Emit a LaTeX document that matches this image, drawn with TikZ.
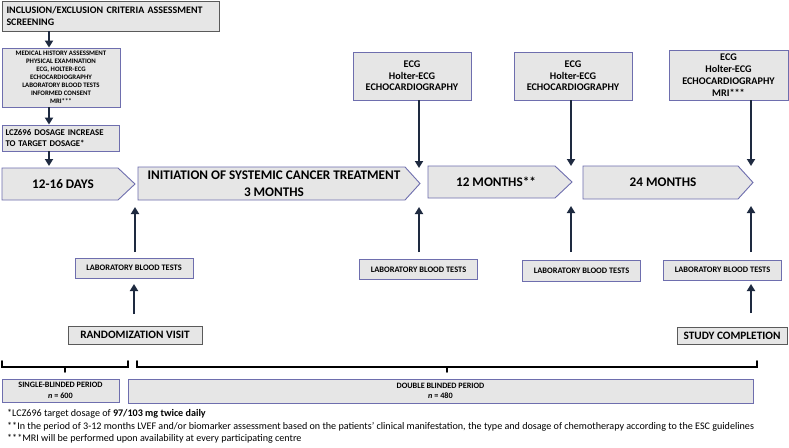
\documentclass[tikz,border=0pt]{standalone}
\usepackage{fontspec}
\setmainfont{Carlito}
\usetikzlibrary{arrows.meta}
\definecolor{boxgray}{HTML}{E6E6E6}
\definecolor{boxblue}{HTML}{6E6EAE}
\definecolor{boxdark}{HTML}{5A5A5A}
\definecolor{arrnavy}{HTML}{1E2A40}
\tikzset{
  x=1pt, y=-1pt,
  box/.style={draw=boxblue, fill=boxgray, line width=0.9pt, inner sep=0pt, align=center, font=\bfseries},
  darkbox/.style={box, draw=boxdark},
  arr/.style={draw=arrnavy, line width=2.6pt, -{Triangle[length=7pt,width=8pt]}},
  chev/.style={draw=boxblue, fill=boxgray, line width=0.9pt},
  brace/.style={draw=black, line width=1.6pt, line cap=round},
  lab/.style={box, minimum width=118pt, minimum height=20pt, font=\bfseries\fontsize{8.4}{9}\selectfont},
  ecg/.style={box, minimum width=118pt, font=\bfseries\fontsize{10.2}{11.5}\selectfont},
  chevtext/.style={align=center, font=\bfseries\fontsize{13.2}{16.5}\selectfont},
  foot/.style={anchor=west, inner sep=0pt, font=\fontsize{10.1}{11}\selectfont},
}
\begin{document}
\begin{tikzpicture}
\useasboundingbox (0,0) rectangle (789,447);
\fill[white] (0,0) rectangle (789,447);
% left column
\node[darkbox, minimum width=217pt, minimum height=30pt, align=left, text width=208pt,
  font=\bfseries\fontsize{10}{12}\selectfont] (b1) at (110.5,16)
  {INCLUSION/EXCLUSION CRITERIA ASSESSMENT\\SCREENING};
\node[box, minimum width=118pt, minimum height=59pt,
  font=\bfseries\fontsize{6.8}{8}\selectfont] (b2) at (61,77.5)
  {MEDICAL HISTORY ASSESSMENT\\PHYSICAL EXAMINATION\\ECG, HOLTER-ECG\\ECHOCARDIOGRAPHY\\LABORATORY BLOOD TESTS\\INFORMED CONSENT\\MRI***};
\node[box, minimum width=117pt, minimum height=26pt, align=left, text width=110pt,
  font=\bfseries\fontsize{8.8}{11.5}\selectfont] (b3) at (60.5,138)
  {LCZ696 DOSAGE INCREASE\\TO TARGET DOSAGE*};
% chevrons
\draw[chev] (2,168) -- (118,168) -- (135,184) -- (118,200) -- (2,200) -- cycle;
\node[chevtext] (c1) at (63,184) {12-16 DAYS};
\draw[chev] (138,167) -- (405,167) -- (420,183.5) -- (405,200) -- (138,200) -- cycle;
\node[chevtext] (c2) at (274,183.5) {INITIATION OF SYSTEMIC CANCER TREATMENT\\3 MONTHS};
\draw[chev] (428,166) -- (555,166) -- (572,182) -- (555,198) -- (428,198) -- cycle;
\node[chevtext] (c3) at (496,182) {12 MONTHS**};
\draw[chev] (583,166) -- (738,166) -- (753,182.5) -- (738,199) -- (583,199) -- cycle;
\node[chevtext] (c4) at (663,182.5) {24 MONTHS};
% ECG boxes
\node[ecg, minimum height=48pt] (e1) at (412,76) {ECG\\Holter-ECG\\ECHOCARDIOGRAPHY};
\node[ecg, minimum height=48pt] (e2) at (573,76) {ECG\\Holter-ECG\\ECHOCARDIOGRAPHY};
\node[ecg, minimum height=50pt, minimum width=119pt, font=\bfseries\fontsize{10.2}{12}\selectfont] (e3) at (728.5,75) {ECG\\Holter-ECG\\ECHOCARDIOGRAPHY\\MRI***};
% lab boxes
\node[lab] (l1) at (134,268) {LABORATORY BLOOD TESTS};
\node[lab] (l2) at (418.5,269.5) {LABORATORY BLOOD TESTS};
\node[lab, minimum height=21pt] (l3) at (581.5,270.5) {LABORATORY BLOOD TESTS};
\node[lab] (l4) at (722.5,270) {LABORATORY BLOOD TESTS};
% visit boxes
\node[darkbox, minimum width=134pt, minimum height=18pt, font=\bfseries\fontsize{11.3}{12}\selectfont] (rv) at (135,335) {RANDOMIZATION VISIT};
\node[darkbox, minimum width=110pt, minimum height=17pt, font=\bfseries\fontsize{11.3}{12}\selectfont] (sc) at (732,335.5) {STUDY COMPLETION};
% period boxes
\node[box, minimum width=117pt, minimum height=23pt, font=\bfseries\fontsize{8.2}{10.5}\selectfont] (p1) at (60.5,390.5) {SINGLE-BLINDED PERIOD\\\textit{n} = 600};
\node[box, minimum width=625pt, minimum height=24pt, font=\bfseries\fontsize{8.2}{10.5}\selectfont] (p2) at (440.5,391) {DOUBLE BLINDED PERIOD\\\textit{n} = 480};
% arrow coordinates
\coordinate (a1s) at (49,122);
\coordinate (a1e) at (49,166);
\coordinate (d1) at (419,168);
\coordinate (d2) at (571,166);
\coordinate (d3) at (751,166);
\coordinate (u1s) at (135,252); \coordinate (u1e) at (135,207);
\coordinate (u2s) at (419,252); \coordinate (u2e) at (419,207);
\coordinate (u3s) at (571,252); \coordinate (u3e) at (571,206);
\coordinate (u4s) at (751,252); \coordinate (u4e) at (751,206);
\coordinate (r1s) at (134,314); \coordinate (r1e) at (134,284);
\coordinate (r2s) at (751,313); \coordinate (r2e) at (751,284);
% arrows
\draw[arr] (b1.south -| a1s) -- (b2.north -| a1s);
\draw[arr] (b2.south -| a1s) -- (b3.north -| a1s);
\draw[arr] (b3.south -| a1s) -- (a1e);
\draw[arr] (e1.south -| d1) -- (d1);
\draw[arr] (e2.south -| d2) -- (d2);
\draw[arr] (e3.south -| d3) -- (d3);
\draw[arr] (u1s) -- (u1e);
\draw[arr] (u2s) -- (u2e);
\draw[arr] (u3s) -- (u3e);
\draw[arr] (u4s) -- (u4e);
\draw[arr] (r1s) -- (r1e);
\draw[arr] (r2s) -- (r2e);
% braces
\draw[brace] (2,361) -- (2,367) -- (128,367) -- (128,361);
\draw[brace] (65,367) -- (65,372);
\draw[brace] (137,361) -- (137,367) -- (757,367) -- (757,361);
\draw[brace] (447,367) -- (447,372);
% footnotes
\node[foot] (f1) at (7,414) {*LCZ696 target dosage of \textbf{97/103 mg twice daily}};
\node[foot] (f2) at (7,427) {**In the period of 3-12 months LVEF and/or biomarker assessment based on the patients’ clinical manifestation, the type and dosage of chemotherapy according to the ESC guidelines};
\node[foot] (f3) at (7,439) {***MRI will be performed upon availability at every participating centre};
\end{tikzpicture}
\end{document}
